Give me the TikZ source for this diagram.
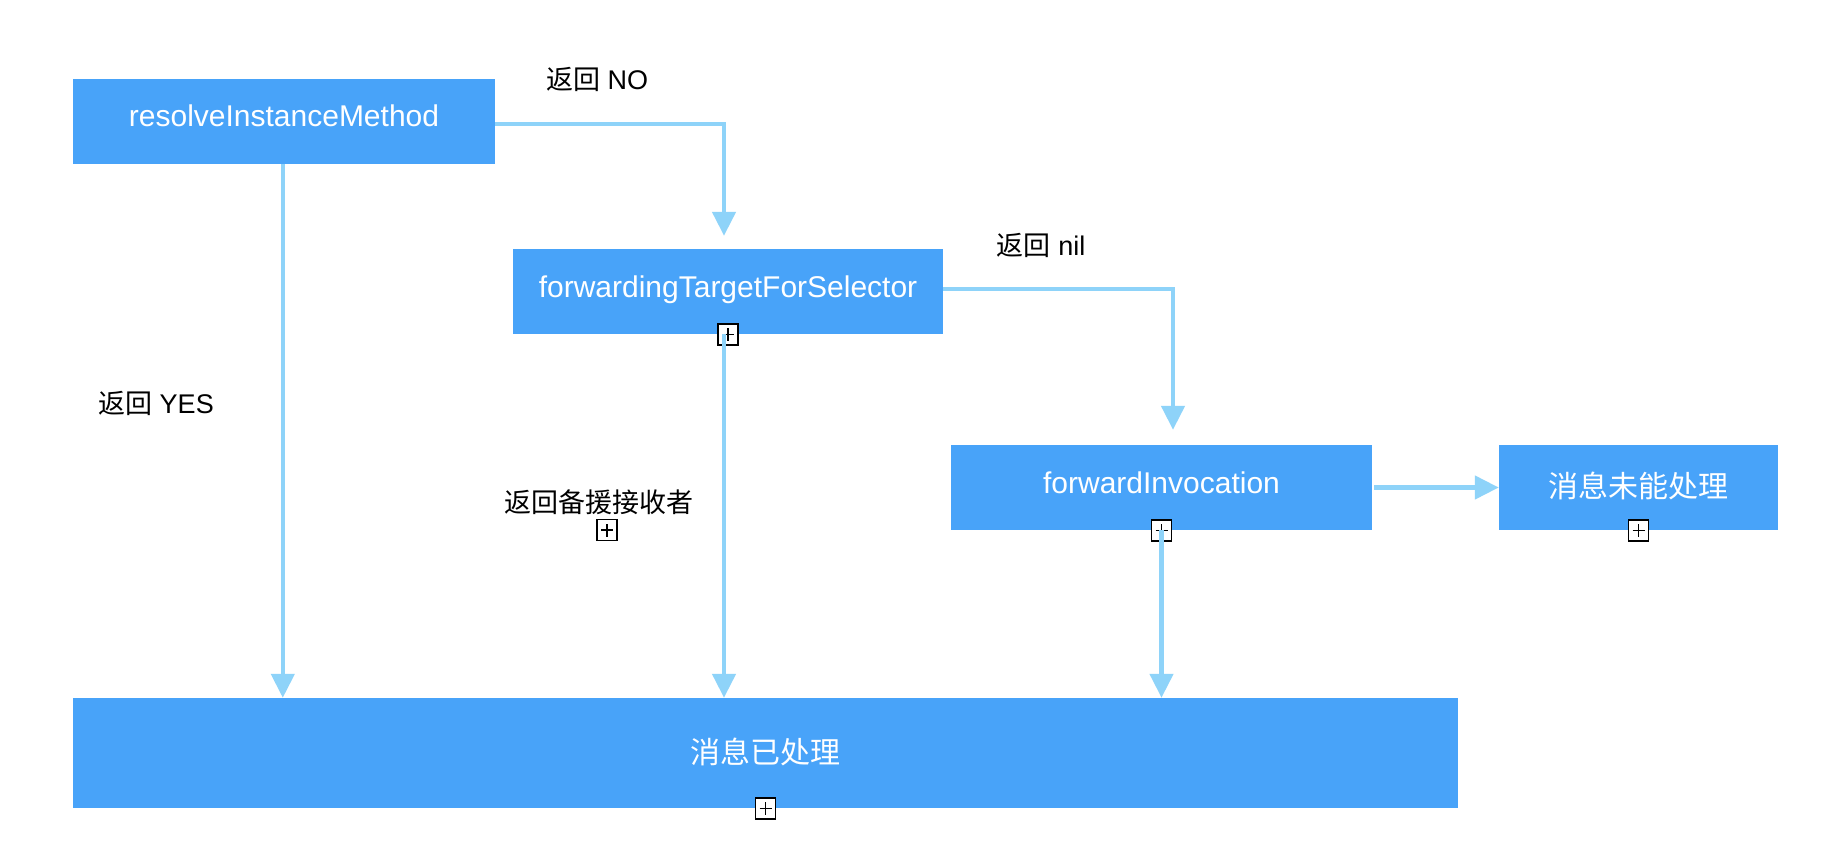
\documentclass[tikz,border=0pt]{standalone}
\usepackage{fontspec}
\setmainfont{Liberation Sans}
\newfontfamily\cjk{Noto Sans CJK SC}
\usetikzlibrary{arrows.meta}
\definecolor{boxblue}{RGB}{72,163,249}
\definecolor{lineblue}{RGB}{142,211,249}
\begin{document}
\begin{tikzpicture}[x=1pt,y=-1pt,
  box/.style={rectangle, fill=boxblue, draw=none, inner sep=0pt, text=white, font=\fontsize{30pt}{36pt}\selectfont},
  latinbox/.style={box, text height=22pt, text depth=11pt},
  cjkbox/.style={box, font=\fontsize{30pt}{36pt}\selectfont\cjk, text height=26pt, text depth=6pt},
  lbl/.style={inner sep=0pt, text=black, font=\fontsize{27pt}{32pt}\selectfont, text height=20pt, text depth=0pt},
  conn/.style={draw=lineblue, line width=4.5pt, -{Triangle[length=24pt,width=23pt]}},
  plusicon/.style={rectangle, draw=black, fill=white, line width=1.8pt, minimum width=20pt, minimum height=21pt, inner sep=0pt,
    path picture={\draw[line width=1.4pt] ([xshift=-6pt]path picture bounding box.center) -- ([xshift=6pt]path picture bounding box.center)
      ([yshift=-6.5pt]path picture bounding box.center) -- ([yshift=6.5pt]path picture bounding box.center);}},
]
\useasboundingbox (0,0) rectangle (1822,842);
\fill[white] (0,0) rectangle (1822,842);

% boxes
\node[latinbox, minimum width=422pt, minimum height=85pt] (r) at (284,121.5) {resolveInstanceMethod};
\node[latinbox, minimum width=430pt, minimum height=85pt] (f) at (728,291.5) {forwardingTargetForSelector};
\node[latinbox, minimum width=421pt, minimum height=85pt] (fi) at (1161.5,487.5) {forwardInvocation};
\node[cjkbox, minimum width=279pt, minimum height=85pt] (u) at (1638.5,487.5) {消息未能处理};
\node[cjkbox, minimum width=1385pt, minimum height=110pt] (b) at (765.5,753) {消息已处理};

% labels
\node[lbl] (lno) at (597,80) {{\cjk 返回} NO};
\node[lbl] (lnil) at (1041,245) {{\cjk 返回} nil};
\node[lbl] (lyes) at (156,403) {{\cjk 返回} YES};
\node[lbl, font=\fontsize{27pt}{32pt}\selectfont\cjk] (lbk) at (599,502) {返回备援接收者};

% expand icons
\node[plusicon] (i1) at (f.south) {};
\node[plusicon] (i2) at (fi.south) {};
\node[plusicon] (i3) at (u.south) {};
\node[plusicon] (i4) at (b.south) {};
\node[plusicon] (i5) at (607,530) {};

% connectors
\draw[conn] ([yshift=-2.5pt]r.east) -| ([xshift=-4pt,yshift=13pt]f.north);
\draw[conn] ([xshift=210pt]r.south west) -- ([xshift=210pt]b.north west);
\draw[conn] ([xshift=-4pt]f.south) -- ([xshift=-4pt]f.south |- b.north);
\draw[conn] ([yshift=2.5pt]f.east) -| ([xshift=11.5pt,yshift=15pt]fi.north);
\draw[conn] (fi.south) -- (fi.south |- b.north);
\draw[conn] ([xshift=2pt]fi.east) -- (u.west);
\end{tikzpicture}
\end{document}
